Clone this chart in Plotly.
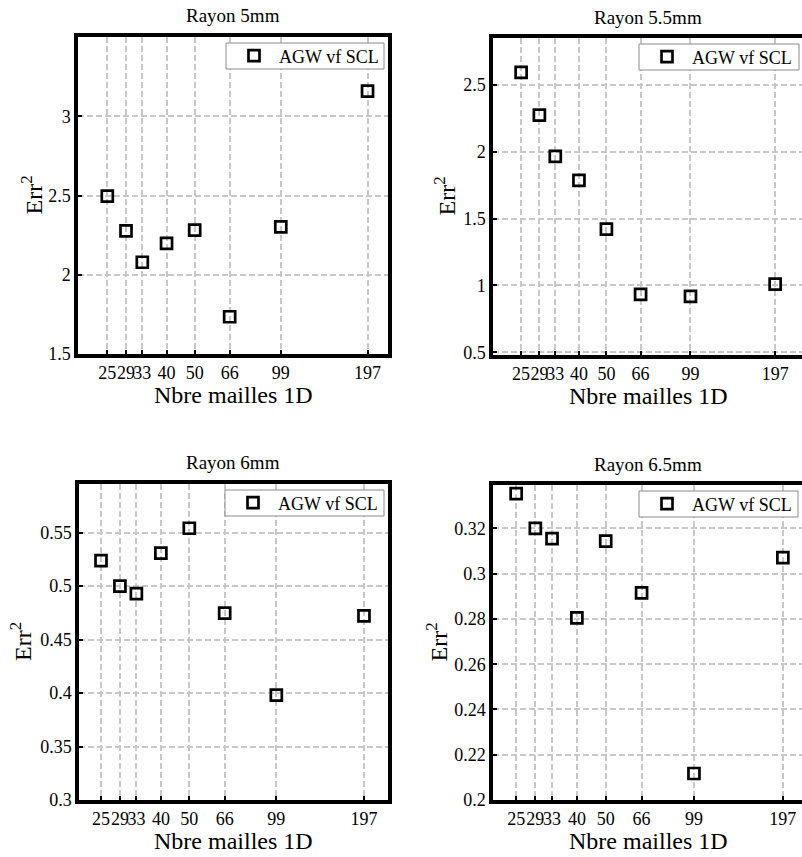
import math
import plotly.graph_objects as go

W, H = 802, 857          # reference picture size used for the geometry below
FIG_H = 867              # rendered figure height (capture is squeezed to 857)
FONT = "'Liberation Serif', 'Times New Roman', Times, serif"

# ---------------- data ----------------
mailles = [25, 29, 33, 40, 50, 66, 99, 197]
mailles_labels = ["25", "29", "33", "40", "50", "66", "99", "197"]

err_5mm = [2.496, 2.277, 2.079, 2.198, 2.281, 1.735, 2.302, 3.158]
err_5_5mm = [2.593, 2.273, 1.965, 1.785, 1.421, 0.933, 0.918, 1.010]
err_6mm = [0.5238, 0.5000, 0.4930, 0.5309, 0.5541, 0.4747, 0.3981, 0.4722]
err_6_5mm = [0.3354, 0.3200, 0.3155, 0.2805, 0.3144, 0.2915, 0.2117, 0.3071]

titles = ["Rayon 5mm", "Rayon 5.5mm", "Rayon 6mm", "Rayon 6.5mm"]
series_name = "AGW vf SCL"

yticks_5mm = [1.5, 2, 2.5, 3]
yticks_5_5mm = [0.5, 1, 1.5, 2, 2.5]
yticks_6mm = [0.3, 0.35, 0.4, 0.45, 0.5, 0.55]
yticks_6_5mm = [0.2, 0.22, 0.24, 0.26, 0.28, 0.3, 0.32]
ylabels_5mm = ["1.5", "2", "2.5", "3"]
ylabels_5_5mm = ["0.5", "1", "1.5", "2", "2.5"]
ylabels_6mm = ["0.3", "0.35", "0.4", "0.45", "0.5", "0.55"]
ylabels_6_5mm = ["0.2", "0.22", "0.24", "0.26", "0.28", "0.3", "0.32"]

# ---------------- layout geometry (pixels) ----------------
panels = [
    dict(box=(78, 388, 37, 354), xr=(1.297, 2.365), yr=(1.5, 3.5),
         ys=err_5mm, yt=yticks_5mm, yl=ylabels_5mm, right=True, cx=233, ytx=31,
         leg=(226, 384)),
    dict(box=(493, 802, 38, 355), xr=(1.2987, 2.3892), yr=(0.48, 2.85),
         ys=err_5_5mm, yt=yticks_5_5mm, yl=ylabels_5_5mm, right=False, cx=648, ytx=444,
         leg=(639, 799)),
    dict(box=(79, 388, 484, 800), xr=(1.3229, 2.3764), yr=(0.3, 0.5955),
         ys=err_6mm, yt=yticks_6mm, yl=ylabels_6mm, right=True, cx=233, ytx=21,
         leg=(225, 384)),
    dict(box=(493, 802, 485, 800), xr=(1.3201, 2.3588), yr=(0.2, 0.3392),
         ys=err_6_5mm, yt=yticks_6_5mm, yl=ylabels_6_5mm, right=False, cx=648, ytx=436,
         leg=(639, 798)),
]


def py(y):
    """pixel row (reference picture) -> paper fraction"""
    return 1 - y / H


fig = go.Figure()
annotations = []
shapes = []
layout_extra = {}

for i, p in enumerate(panels):
    n = "" if i == 0 else str(i + 1)
    l, r, t, b = p["box"]
    legname = "legend" + n
    fig.add_trace(go.Scatter(
        x=mailles, y=p["ys"], mode="markers", name=series_name,
        xaxis="x" + n, yaxis="y" + n, legend=legname, showlegend=True,
        marker=dict(symbol="square-open", size=11, color="black",
                    line=dict(width=2.7, color="black")),
    ))
    common = dict(
        showline=True, linewidth=3.5, linecolor="black",
        showgrid=True, gridcolor="#c8c8c8", gridwidth=1.6, griddash="6px,3px",
        ticks="inside", ticklen=4, tickwidth=1.5, tickcolor="black",
        tickfont=dict(family=FONT, size=18, color="black"),
        zeroline=False, fixedrange=True,
    )
    layout_extra["xaxis" + n] = dict(
        common, type="log", range=list(p["xr"]), domain=[l / W, r / W],
        tickmode="array", tickvals=mailles, ticktext=mailles_labels,
        tickangle=0, mirror=True, anchor="y" + n, ticklabelstandoff=0,
    )
    layout_extra["yaxis" + n] = dict(
        common, range=list(p["yr"]), domain=[py(b), py(t)],
        tickmode="array", tickvals=p["yt"], ticktext=p["yl"],
        mirror=p["right"], anchor="x" + n,
    )
    lx0, lx1 = p["leg"]
    ly0, ly1 = t + 6, t + 32
    shapes.append(dict(
        type="rect", xref="paper", yref="paper",
        x0=lx0 / W, x1=lx1 / W, y0=py(ly1), y1=py(ly0),
        fillcolor="white", line=dict(color="#8c8c8c", width=1), layer="above",
    ))
    layout_extra[legname] = dict(
        x=(lx0 + 3) / W, xanchor="left", y=py((ly0 + ly1) / 2), yanchor="middle",
        bgcolor="rgba(0,0,0,0)", borderwidth=0,
        font=dict(family=FONT, size=18, color="black"), itemwidth=40,
    )
    annotations.append(dict(
        text=titles[i], x=p["cx"] / W, y=py(t - 21), xref="paper", yref="paper",
        xanchor="center", yanchor="middle", showarrow=False,
        font=dict(family=FONT, size=19, color="black"),
    ))
    annotations.append(dict(
        text="Nbre mailles 1D", x=p["cx"] / W, y=py(b + 41), xref="paper", yref="paper",
        xanchor="center", yanchor="middle", showarrow=False,
        font=dict(family=FONT, size=24, color="black"),
    ))
    annotations.append(dict(
        text="Err<sup>2</sup>", x=p["ytx"] / W, y=py((t + b) / 2),
        xref="paper", yref="paper", xanchor="center", yanchor="middle",
        textangle=-90, showarrow=False,
        font=dict(family=FONT, size=24, color="black"),
    ))

fig.update_layout(
    width=W, height=FIG_H, margin=dict(l=0, r=0, t=0, b=0),
    paper_bgcolor="white", plot_bgcolor="white",
    annotations=annotations, shapes=shapes, **layout_extra,
)

fig.write_html(
    "out.html",
    config={"displayModeBar": False, "responsive": False},
    post_script=(
        "document.documentElement.style.margin='0';"
        "document.documentElement.style.overflow='hidden';"
        "document.body.style.margin='0';"
        "document.body.style.overflow='hidden';"
        "var gdiv=document.getElementById('{plot_id}');"
        "gdiv.style.position='fixed';gdiv.style.top='0';gdiv.style.left='0';"
    ),
)
